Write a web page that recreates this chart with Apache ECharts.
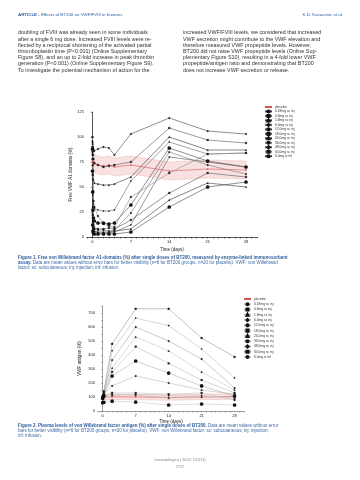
<!DOCTYPE html>
<html>
<head>
<meta charset="utf-8">
<script src="https://cdn.jsdelivr.net/npm/echarts@6/dist/echarts.min.js"></script>
<style>
  html, body { margin: 0; padding: 0; background: #fff; }
  #main { width: 360px; height: 480px; }
</style>
</head>
<body>
<div id="main"></div>
<script>
// ---- data ----
const doseNames = ['placebo', '0.18mg sc inj', '0.6mg sc inj', '1.8mg sc inj', '6.0mg sc inj', '12.0mg sc inj',
  '18.0mg sc inj', '24.0mg sc inj', '36.0mg sc inj', '48.0mg sc inj', '60.0mg sc inj', '6.0mg iv inf'];

// figure 1: free VWF A1 domains (%)
const daysF1 = [0, 0.04, 0.08, 0.17, 0.33, 1, 2, 3, 4, 7, 14, 21, 28];
const placeboF1 = [76, 74, 75, 73, 74, 72, 71, 72, 70, 72, 66, 68, 67];
const placeboLoF1 = [67, 65, 66, 64, 65, 63, 62, 63, 61, 63, 57, 59, 58];
const placeboHiF1 = [85, 83, 84, 82, 83, 81, 80, 81, 79, 81, 75, 77, 76];
const a1Dose018 = [95, 93, 90, 88, 86, 88, 90, 89, 82, 103, 119, 106, 103];
const a1Dose06 = [90, 86, 82, 78, 74, 72, 70, 71, 72, 75, 109, 97, 94];
const a1Dose18 = [86, 72, 63, 57, 54, 53, 52, 52, 53, 60, 100, 87, 87];
const a1Dose6 = [82, 58, 42, 33, 29, 27, 26, 26, 27, 56, 95, 83, 84];
const a1Dose12 = [88, 45, 27, 19, 16, 14, 14, 13, 14, 32, 89, 76, 70];
const a1Dose18b = [78, 22, 13, 10, 8, 8, 8, 9, 8, 17, 44, 64, 60];
const a1Dose24 = [72, 16, 9, 6, 5, 5, 5, 5, 6, 8, 37, 54, 50];
const a1Dose36 = [84, 30, 16, 11, 8, 7, 7, 6, 7, 24, 85, 72, 63];
const a1Dose48 = [96, 26, 11, 7, 5, 4, 4, 4, 5, 12, 80, 75, 70];
const a1Dose60 = [100, 62, 46, 36, 30, 21, 13, 11, 10, 40, 64, 83, 84];
const a1DoseIv = [66, 12, 6, 4, 3, 3, 3, 3, 3, 5, 30, 50, 55];
const seriesF1 = [a1Dose018, a1Dose06, a1Dose18, a1Dose6, a1Dose12, a1Dose18b, a1Dose24, a1Dose36, a1Dose48, a1Dose60, a1DoseIv];

// figure 2: VWF antigen (%)
const daysF2 = [0, 0.25, 2, 7, 14, 21, 28];
const placeboF2 = [100, 98, 102, 100, 97, 101, 104];
const placeboLoF2 = [80, 78, 82, 80, 77, 81, 84];
const placeboHiF2 = [120, 118, 122, 120, 117, 121, 124];
const agDose018 = [110, 112, 180, 250, 200, 150, 120];
const agDose06 = [100, 105, 130, 129, 120, 129, 79];
const agDose18 = [112, 113, 120, 114, 93, 100, 100];
const agDose6 = [95, 100, 110, 120, 110, 110, 90];
const agDose12 = [90, 108, 250, 357, 271, 179, 107];
const agDose18b = [102, 112, 279, 460, 340, 221, 129];
const agDose24 = [98, 118, 307, 529, 430, 279, 150];
const agDose36 = [100, 125, 364, 600, 500, 371, 164];
const agDose48 = [96, 130, 430, 664, 610, 443, 236];
const agDose60 = [104, 140, 480, 730, 730, 521, 386];
const agDoseIv = [60, 62, 70, 64, 43, 50, 43];
const seriesF2 = [agDose018, agDose06, agDose18, agDose6, agDose12, agDose18b, agDose24, agDose36, agDose48, agDose60, agDoseIv];

const dayTicks = [0, 7, 14, 21, 28];
const everyDay = [-1, 0, 1, 2, 3, 4, 5, 6, 7, 8, 9, 10, 11, 12, 13, 14, 15, 16, 17, 18, 19, 20, 21, 22, 23, 24, 25, 26, 27, 28, 29, 30];

// page text
const headerLeft = 'Effects of BT200 on VWF/FVIII in humans';
const headerRight = 'K.D. Kovacevic et al.';
const colLeft = [
  'doubling of FVIII was already seen in some individuals',
  'after a single 6 mg dose. Increased FVIII levels were re-',
  'flected by a reciprocal shortening of the activated partial',
  'thromboplastin time (P<0.001) (Online Supplementary',
  'Figure S8), and an up to 2-fold increase in peak thrombin',
  'generation (P<0.001) (Online Supplementary Figure S9).',
  'To investigate the potential mechanism of action for the'
];
const colRight = [
  'increased VWF/FVIII levels, we considered that increased',
  'VWF secretion might contribute to the VWF elevation and',
  'therefore measured VWF propeptide levels. However,',
  'BT200 did not raise VWF propeptide levels (Online Sup-',
  'plementary Figure S10), resulting in a 4-fold lower VWF',
  'propeptide/antigen ratio and demonstrating that BT200',
  'does not increase VWF secretion or release.'
];
const cap1 = [
  '{b|Figure 1. Free von Willebrand factor A1-domains (%) after single doses of BT200, measured by enzyme-linked immunosorbent}',
  '{b|assay.} Data are mean values without error bars for better visibility (n=6 for BT200 groups, n=20 for placebo). VWF: von Willebrand',
  'factor; sc: subcutaneous; inj: injection; inf: infusion.'
];
const cap2 = [
  '{b|Figure 2. Plasma levels of von Willebrand factor antigen (%) after single doses of BT200.} Data are mean values without error',
  'bars for better visibility (n=6 for BT200 groups, n=20 for placebo). VWF: von Willebrand factor; sc: subcutaneous; inj: injection;',
  'inf: infusion.'
];

// ---- styling helpers ----
const symbols = ['circle', 'rect', 'triangle', 'diamond', 'emptyCircle', 'rect', 'triangle', 'circle', 'diamond', 'rect', 'emptyCircle'];
const linesF1 = ['#444', '#555', '#333', '#666', '#444', '#555', '#333', '#777', '#555', '#888', '#444'];
const linesF2 = ['#bbb', '#c4c4c4', '#bbb', '#ccc', '#b0b0b0', '#bbb', '#c4c4c4', '#aaa', '#bbb', '#999', '#c8c8c8'];

function pairs(xs, ys) {
  return xs.map((x, i) => [x, ys[i]]);
}

function lineSeries(idx, name, xs, ys, lineColor, sym) {
  return {
    name: name,
    type: 'line',
    xAxisIndex: idx,
    yAxisIndex: idx,
    data: pairs(xs, ys),
    symbol: sym,
    symbolSize: 1.7,
    lineStyle: { width: 0.6, color: lineColor },
    itemStyle: { color: '#111', borderColor: '#111', borderWidth: 0.3 },
    z: 3,
    silent: true
  };
}

// shaded placebo range, drawn as one polygon through the axis scales
function bandSeries(idx, xs, lo, hi) {
  return {
    type: 'custom', xAxisIndex: idx, yAxisIndex: idx, silent: true, z: 1,
    data: xs.map((x, i) => [x, lo[i], hi[i]]),
    encode: { x: 0, y: [1, 2] },
    renderItem: function (params, api) {
      if (params.dataIndex !== 0) return null;
      const top = xs.map((x, i) => api.coord([x, hi[i]]));
      const bottom = xs.map((x, i) => api.coord([x, lo[i]])).reverse();
      return {
        type: 'polygon',
        shape: { points: top.concat(bottom) },
        style: { fill: 'rgba(232,120,120,0.22)', stroke: 'rgba(220,110,110,0.5)', lineWidth: 0.4 }
      };
    }
  };
}

const series = [];
series.push(bandSeries(0, daysF1, placeboLoF1, placeboHiF1));
series.push(bandSeries(1, daysF2, placeboLoF2, placeboHiF2));
series.push(Object.assign(lineSeries(0, 'f1|placebo', daysF1, placeboF1, '#d9534f', 'circle'),
  { itemStyle: { color: '#d9534f' } }));
seriesF1.forEach((ys, i) => series.push(lineSeries(0, 'f1|' + doseNames[i + 1], daysF1, ys, linesF1[i], symbols[i])));
series.push(Object.assign(lineSeries(1, 'f2|placebo', daysF2, placeboF2, '#d9534f', 'circle'),
  { itemStyle: { color: '#d9534f' } }));
seriesF2.forEach((ys, i) => series.push(lineSeries(1, 'f2|' + doseNames[i + 1], daysF2, ys, linesF2[i], symbols[i])));

const FONT = 'Liberation Sans';
const axisFont = { fontFamily: FONT, fontSize: 4, color: '#222' };

function xAxisCfg(idx, lineColor, gap) {
  return {
    type: 'value', gridIndex: idx, min: -1, max: 30,
    name: 'Time (days)', nameLocation: 'middle', nameGap: gap,
    nameTextStyle: { fontFamily: FONT, fontSize: 4.5, color: '#222' },
    axisLine: { lineStyle: { color: lineColor, width: 0.7 } },
    axisTick: { customValues: everyDay, length: 1.6, lineStyle: { color: lineColor, width: 0.5 } },
    axisLabel: Object.assign({ customValues: dayTicks, margin: 3 }, axisFont),
    splitLine: { show: false }
  };
}

function legendCfg(prefix, left, top, gap) {
  return {
    left: left, top: top, orient: 'vertical', itemGap: gap, itemWidth: 7, itemHeight: 2.6,
    data: doseNames.map(n => prefix + n),
    formatter: n => n.split('|')[1],
    textStyle: { fontFamily: FONT, fontSize: 3.3, lineHeight: 4, color: '#333', padding: [0, 0, 0, -2] },
    selectedMode: false
  };
}

const chart = echarts.init(document.getElementById('main'), null, { renderer: 'canvas' });

const graphics = [];
function text(x, y, str, opt) {
  graphics.push({
    type: 'text', x: x, y: y, silent: true,
    style: Object.assign({ text: str, fontFamily: FONT, fontSize: 5.4, fill: '#333', verticalAlign: 'middle' }, opt || {})
  });
}

// header
text(18, 15, '{b|ARTICLE} - ' + headerLeft, {
  fontSize: 4.4, fill: '#2b5c9e',
  rich: { b: { fontFamily: FONT, fontSize: 4.4, fontWeight: 'bold', fill: '#2b5c9e' } }
});
text(343, 15, headerRight, { fontSize: 4.4, fill: '#2b5c9e', align: 'right' });
// body columns
colLeft.forEach((s, i) => text(18, 33 + i * 6.2, s));
colRight.forEach((s, i) => text(183, 33 + i * 6.2, s));
// captions
const capRich = { b: { fontFamily: FONT, fontSize: 4.5, fontWeight: 'bold', fill: '#2b5c9e' } };
cap1.forEach((s, i) => text(18, 258 + i * 5, s, { fontSize: 4.5, fill: '#3d6aa8', rich: capRich }));
cap2.forEach((s, i) => text(18, 426 + i * 5, s, { fontSize: 4.5, fill: '#3d6aa8', rich: capRich }));
// footer
text(180, 460, 'haematologica | 2022; 107(11)', { fontSize: 3.8, fill: '#888', align: 'center' });
text(180, 467, '2717', { fontSize: 3.8, fill: '#888', align: 'center' });

chart.setOption({
  backgroundColor: '#fff',
  animation: false,
  grid: [
    { left: 87, right: 103, top: 112, bottom: 243 },
    { left: 98, right: 116, top: 306, bottom: 69 }
  ],
  xAxis: [xAxisCfg(0, '#111', 10), xAxisCfg(1, '#777', 8)],
  yAxis: [
    {
      type: 'value', gridIndex: 0, min: 0, max: 125, interval: 25,
      name: 'Free VWF A1 domains (%)', nameLocation: 'middle', nameGap: 14, nameRotate: 90,
      nameTextStyle: { fontFamily: FONT, fontSize: 4.5, color: '#222' },
      axisLine: { show: true, lineStyle: { color: '#111', width: 0.7 } },
      axisTick: { show: true, length: 1.6, lineStyle: { width: 0.5 } },
      axisLabel: Object.assign({ margin: 3 }, axisFont),
      splitLine: { show: false }
    },
    {
      type: 'value', gridIndex: 1, min: 0, max: 750, interval: 50,
      name: 'VWF antigen (%)', nameLocation: 'middle', nameGap: 16, nameRotate: 90,
      nameTextStyle: { fontFamily: FONT, fontSize: 4.5, color: '#222' },
      axisLine: { show: true, lineStyle: { color: '#777', width: 0.7 } },
      axisTick: { show: true, length: 1.6, lineStyle: { width: 0.5 } },
      axisLabel: Object.assign({ margin: 3, formatter: v => (v % 100 === 0 ? String(v) : '') }, axisFont),
      splitLine: { show: false }
    }
  ],
  legend: [legendCfg('f1|', 259, 100, 0.4), legendCfg('f2|', 238, 292, 1.2)],
  series: series,
  graphic: graphics
});
</script>
</body>
</html>
